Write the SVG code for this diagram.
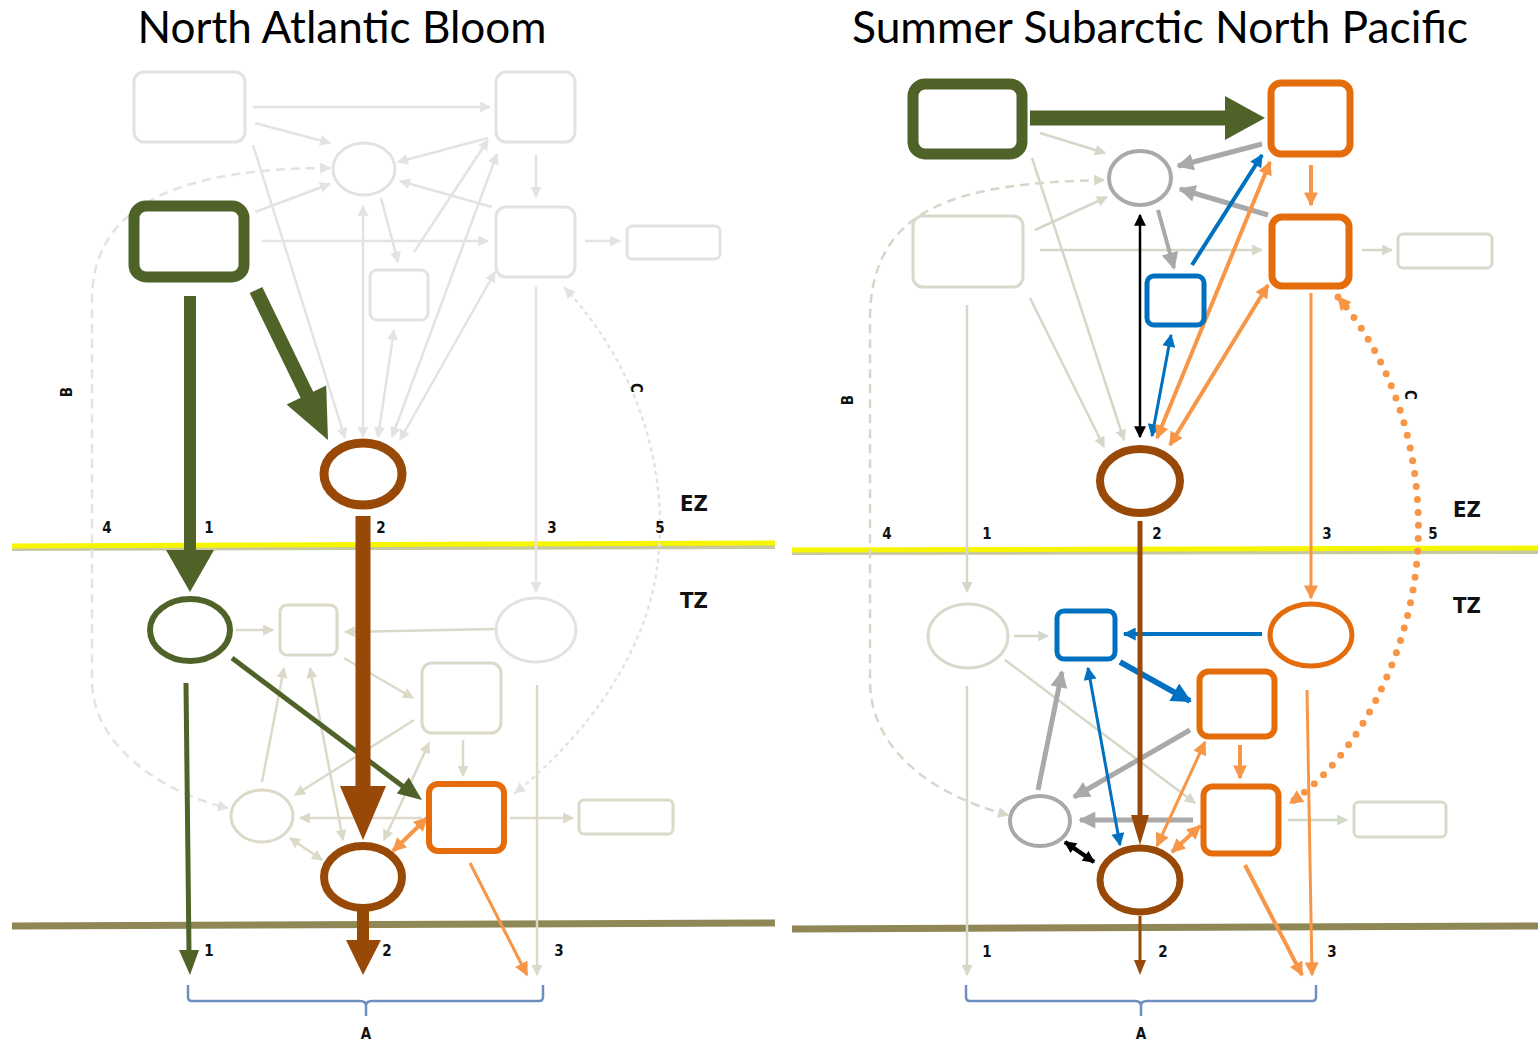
<svg xmlns="http://www.w3.org/2000/svg" width="1538" height="1040" viewBox="0 0 1538 1040">
<style>
.title{font-family:Lato,"Open Sans","Liberation Sans",sans-serif;font-size:44px;fill:#000}
.lbl{font-family:"DejaVu Sans Condensed","Liberation Sans",sans-serif;font-weight:bold;font-size:15px;fill:#111}
.zone{font-family:"DejaVu Sans Condensed","Liberation Sans",sans-serif;font-weight:bold;font-size:22px;fill:#111}
.n{fill:#fff}
.fg{fill:#fff;stroke:#e2e2e2;stroke-width:3}
.fb{fill:#fff;stroke:#dcd9c9;stroke-width:3}
.fr{fill:#fff;stroke:#d5dacb;stroke-width:3}
.lg{fill:none;stroke:#e3e3e3;stroke-width:2.5}
.lb{fill:none;stroke:#dcd9c9;stroke-width:2.5}
.lr{fill:none;stroke:#d3d9c8;stroke-width:2.5}
.gry{fill:none;stroke:#a9a9a9}
.blu{fill:none;stroke:#0070c0}
.orl{fill:none;stroke:#f79646}
.blk{fill:none;stroke:#000}
.green{stroke:#4f6228;fill:none}
.brown{stroke:#984807;fill:none}
</style>
<defs>
<marker id="mFg" viewBox="0 0 10 10" refX="9" refY="5" markerWidth="12" markerHeight="11" markerUnits="userSpaceOnUse" orient="auto-start-reverse"><path d="M0,0 L10,5 L0,10 z" fill="#e3e3e3"/></marker>
<marker id="mFb" viewBox="0 0 10 10" refX="9" refY="5" markerWidth="12" markerHeight="11" markerUnits="userSpaceOnUse" orient="auto-start-reverse"><path d="M0,0 L10,5 L0,10 z" fill="#dcd9c9"/></marker>
<marker id="mFr" viewBox="0 0 10 10" refX="9" refY="5" markerWidth="12" markerHeight="11" markerUnits="userSpaceOnUse" orient="auto-start-reverse"><path d="M0,0 L10,5 L0,10 z" fill="#d3d9c8"/></marker>
<marker id="mGr" viewBox="0 0 10 10" refX="9" refY="5" markerWidth="18" markerHeight="17" markerUnits="userSpaceOnUse" orient="auto-start-reverse"><path d="M0,0 L10,5 L0,10 z" fill="#a9a9a9"/></marker>
<marker id="mBl" viewBox="0 0 10 10" refX="9" refY="5" markerWidth="15" markerHeight="13" markerUnits="userSpaceOnUse" orient="auto-start-reverse"><path d="M0,0 L10,5 L0,10 z" fill="#0070c0"/></marker>
<marker id="mBlL" viewBox="0 0 10 10" refX="9" refY="5" markerWidth="22" markerHeight="20" markerUnits="userSpaceOnUse" orient="auto-start-reverse"><path d="M0,0 L10,5 L0,10 z" fill="#0070c0"/></marker>
<marker id="mOr" viewBox="0 0 10 10" refX="9" refY="5" markerWidth="15" markerHeight="14" markerUnits="userSpaceOnUse" orient="auto-start-reverse"><path d="M0,0 L10,5 L0,10 z" fill="#f79646"/></marker>
<marker id="mBk" viewBox="0 0 10 10" refX="9" refY="5" markerWidth="13" markerHeight="12" markerUnits="userSpaceOnUse" orient="auto-start-reverse"><path d="M0,0 L10,5 L0,10 z" fill="#000"/></marker>
</defs>
<rect width="1538" height="1040" fill="#fff"/>

<text class="title" x="342" y="43" text-anchor="middle" textLength="409" lengthAdjust="spacingAndGlyphs">North Atlantic Bloom</text>
<text class="title" x="1160" y="43" text-anchor="middle" textLength="616" lengthAdjust="spacingAndGlyphs">Summer Subarctic North Pacific</text>

<g id="layers">
<line x1="12" y1="548" x2="775" y2="546" stroke="#c8c8a0" stroke-width="6"/>
<line x1="12" y1="546" x2="775" y2="543" stroke="#f6f600" stroke-width="5"/>
<line x1="792" y1="552" x2="1538" y2="551" stroke="#c8c8a0" stroke-width="6"/>
<line x1="792" y1="550" x2="1538" y2="548" stroke="#f6f600" stroke-width="5"/>
<line x1="12" y1="926" x2="775" y2="923" stroke="#8f8755" stroke-width="7"/>
<line x1="792" y1="929" x2="1538" y2="926" stroke="#8f8755" stroke-width="7"/>
</g>

<g id="connectors">
<path class="lg" d="M253,107 L490,107" marker-end="url(#mFg)"/>
<path class="lg" d="M255,123 L330,143" marker-end="url(#mFg)"/>
<path class="lg" d="M488,138 L398,162" marker-end="url(#mFg)"/>
<path class="lg" d="M253,145 L345,438" marker-end="url(#mFg)"/>
<path class="lg" d="M255,212 L330,184" marker-end="url(#mFg)"/>
<path class="lg" d="M262,241 L488,241" marker-end="url(#mFg)"/>
<path class="lg" d="M381,198 L398,262" marker-end="url(#mFg)"/>
<path class="lg" d="M414,252 L488,140" marker-end="url(#mFg)"/>
<path class="lg" d="M392,437 L497,154" marker-start="url(#mFg)" marker-end="url(#mFg)"/>
<path class="lg" d="M400,440 L495,272" marker-start="url(#mFg)" marker-end="url(#mFg)"/>
<path class="lg" d="M492,207 L400,181" marker-end="url(#mFg)"/>
<path class="lg" d="M536,155 L536,197" marker-end="url(#mFg)"/>
<path class="lg" d="M585,241 L620,241" marker-end="url(#mFg)"/>
<path class="lg" d="M363,206 L363,437" marker-start="url(#mFg)" marker-end="url(#mFg)"/>
<path class="lg" d="M394,330 L378,437" marker-start="url(#mFg)" marker-end="url(#mFg)"/>
<path class="lg" d="M536,287 L536,592" marker-end="url(#mFg)"/>
<path class="lb" d="M537,685 L537,975" marker-end="url(#mFb)"/>
<path class="lg" d="M330,168 C200,168 92,195 92,300 L92,680 C92,750 170,795 228,808" stroke-dasharray="9 6" marker-start="url(#mFg)" marker-end="url(#mFg)"/>
<path class="lg" d="M565,288 C640,370 668,470 658,560 C648,660 575,745 515,793" stroke-dasharray="2 6" stroke-linecap="round" marker-start="url(#mFg)" marker-end="url(#mFg)"/>
<path class="lb" d="M236,630 L273,630" marker-end="url(#mFb)"/>
<path class="lb" d="M496,629 L345,632" marker-end="url(#mFb)"/>
<path class="lb" d="M344,658 L413,698" marker-end="url(#mFb)"/>
<path class="lb" d="M414,720 L295,795" marker-end="url(#mFb)"/>
<path class="lb" d="M262,782 L284,668" marker-end="url(#mFb)"/>
<path class="lb" d="M310,668 L343,840" marker-start="url(#mFb)" marker-end="url(#mFb)"/>
<path class="lb" d="M429,743 L384,840" marker-start="url(#mFb)" marker-end="url(#mFb)"/>
<path class="lb" d="M463,740 L463,776" marker-end="url(#mFb)"/>
<path class="lb" d="M422,818 L300,818" marker-end="url(#mFb)"/>
<path class="lb" d="M290,838 L322,860" marker-start="url(#mFb)" marker-end="url(#mFb)"/>
<path class="lb" d="M510,818 L573,818" marker-end="url(#mFb)"/>

<path class="green" d="M190,296 L190,556" stroke-width="12"/>
<polygon points="166,550 214,550 190,592" fill="#4f6228"/>
<path class="green" d="M256,290 L308,397" stroke-width="14"/>
<polygon points="286.6,404.4 326.2,385.4 328,440" fill="#4f6228"/>
<path class="green" d="M186,683 L189,952" stroke-width="5"/>
<polygon points="179,950 199,950 190,975" fill="#4f6228"/>
<path class="green" d="M232,658 L405,788" stroke-width="5"/>
<polygon points="396.8,793.6 408.8,777.6 422,800" fill="#4f6228"/>
<path class="brown" d="M363,516 L363,790" stroke-width="15"/>
<polygon points="340,786 386,786 363,840" fill="#984807"/>
<path class="brown" d="M363,910 L363,942" stroke-width="12"/>
<polygon points="346,940 381,940 363,975" fill="#984807"/>
<path class="orl" d="M427,818 L393,851" stroke-width="4" marker-start="url(#mOr)" marker-end="url(#mOr)"/>
<path class="orl" d="M470,863 L527,975" stroke-width="3" marker-end="url(#mOr)"/>

<path class="lr" d="M1040,133 L1105,153" marker-end="url(#mFr)"/>
<path class="lr" d="M1032,158 L1124,440" marker-end="url(#mFr)"/>
<path class="lr" d="M1030,298 L1104,447" marker-end="url(#mFr)"/>
<path class="lr" d="M1035,230 L1107,197" marker-end="url(#mFr)"/>
<path class="lr" d="M1040,250 L1262,250" marker-end="url(#mFr)"/>
<path class="lr" d="M1362,250 L1392,250" marker-end="url(#mFr)"/>
<path class="lr" d="M967,305 L967,592" marker-end="url(#mFr)"/>
<path class="lr" d="M1014,636 L1048,636" marker-end="url(#mFr)"/>
<path class="lr" d="M1005,660 L1195,803" marker-end="url(#mFr)"/>
<path class="lr" d="M967,686 L967,975" marker-end="url(#mFr)"/>
<path class="lr" d="M1288,820 L1347,820" marker-end="url(#mFr)"/>
<path class="lr" d="M1104,180 C960,183 870,205 870,320 L870,680 C870,760 950,800 1008,815" stroke-dasharray="9 6" marker-start="url(#mFr)" marker-end="url(#mFr)"/>

<path class="gry" d="M1262,144 L1178,166" stroke-width="5" marker-end="url(#mGr)"/>
<path class="gry" d="M1268,215 L1180,189" stroke-width="5" marker-end="url(#mGr)"/>
<path class="gry" d="M1158,210 L1174,268" stroke-width="4" marker-end="url(#mGr)"/>
<path class="gry" d="M1190,730 L1074,797" stroke-width="5" marker-end="url(#mGr)"/>
<path class="gry" d="M1038,790 L1062,672" stroke-width="5" marker-end="url(#mGr)"/>
<path class="gry" d="M1193,820 L1080,820" stroke-width="5" marker-end="url(#mGr)"/>

<path class="blu" d="M1192,265 L1262,155" stroke-width="4" marker-end="url(#mBl)"/>
<path class="blu" d="M1152,436 L1171,335" stroke-width="3" marker-start="url(#mBl)" marker-end="url(#mBl)"/>
<path class="blu" d="M1262,634 L1124,634" stroke-width="4" marker-end="url(#mBl)"/>
<path class="blu" d="M1120,662 L1190,701" stroke-width="6" marker-end="url(#mBlL)"/>
<path class="blu" d="M1088,668 L1120,845" stroke-width="3" marker-start="url(#mBl)" marker-end="url(#mBl)"/>

<path class="blk" d="M1140,215 L1140,437" stroke-width="2.5" marker-start="url(#mBk)" marker-end="url(#mBk)"/>
<path class="blk" d="M1065,842 L1094,862" stroke-width="4.5" marker-start="url(#mBk)" marker-end="url(#mBk)"/>

<path class="orl" d="M1157,438 L1270,162" stroke-width="4" marker-start="url(#mOr)" marker-end="url(#mOr)"/>
<path class="orl" d="M1170,445 L1268,285" stroke-width="4" marker-start="url(#mOr)" marker-end="url(#mOr)"/>
<path class="orl" d="M1311,165 L1311,205" stroke-width="4" marker-end="url(#mOr)"/>
<path class="orl" d="M1311,293 L1311,598" stroke-width="3" marker-end="url(#mOr)"/>
<path class="orl" d="M1157,846 L1205,742" stroke-width="3" marker-start="url(#mOr)" marker-end="url(#mOr)"/>
<path class="orl" d="M1172,852 L1200,826" stroke-width="4" marker-start="url(#mOr)" marker-end="url(#mOr)"/>
<path class="orl" d="M1240,745 L1240,778" stroke-width="4" marker-end="url(#mOr)"/>
<path class="orl" d="M1307,690 L1312,975" stroke-width="3" marker-end="url(#mOr)"/>
<path class="orl" d="M1245,865 L1302,975" stroke-width="4" marker-end="url(#mOr)"/>
<path class="orl" d="M1338,297 C1400,370 1425,470 1417,560 C1408,660 1355,760 1290,803" stroke-width="7" stroke-dasharray="0 13" stroke-linecap="round" marker-start="url(#mOr)" marker-end="url(#mOr)"/>

<path class="green" d="M1030,118 L1230,118" stroke-width="15"/>
<polygon points="1225,96 1225,140 1265,118" fill="#4f6228"/>
<path class="brown" d="M1140,521 L1140,818" stroke-width="5"/>
<polygon points="1131,815 1149,815 1140,845" fill="#984807"/>
<path class="brown" d="M1140,916 L1140,962" stroke-width="3"/>
<polygon points="1134,960 1146,960 1140,975" fill="#984807"/>

<path d="M188,985 L188,997 Q188,1001 192,1001 L360,1001 Q366,1001 366,1006 L366,1016 M366,1006 Q366,1001 372,1001 L539,1001 Q543,1001 543,997 L543,985" fill="none" stroke="#6d8fbf" stroke-width="2.5"/>
<path d="M966,985 L966,997 Q966,1001 970,1001 L1135,1001 Q1141,1001 1141,1006 L1141,1016 M1141,1006 Q1141,1001 1147,1001 L1312,1001 Q1316,1001 1316,997 L1316,985" fill="none" stroke="#6d8fbf" stroke-width="2.5"/>
</g>

<g id="nab-tl-box"><rect class="fg" x="134" y="72" width="111" height="70" rx="10"/></g>
<g id="nab-tr-box"><rect class="fg" x="496" y="72" width="79" height="70" rx="10"/></g>
<g id="nab-circle"><ellipse class="fg" cx="364" cy="169" rx="31" ry="26"/></g>
<g id="nab-green-box"><rect class="n" x="134" y="206" width="110" height="71" rx="12" stroke="#4f6228" stroke-width="11"/></g>
<g id="nab-mid-box"><rect class="fg" x="496" y="207" width="79" height="70" rx="10"/></g>
<g id="nab-far-rect"><rect class="fg" x="627" y="226" width="93" height="33" rx="5"/></g>
<g id="nab-small-box"><rect class="fg" x="370" y="270" width="58" height="50" rx="7"/></g>
<g id="nab-brown-top"><ellipse class="n" cx="363" cy="474" rx="39" ry="31" stroke="#984807" stroke-width="9"/></g>
<g id="nab-green-ell"><ellipse class="n" cx="190" cy="630" rx="40" ry="31" stroke="#4f6228" stroke-width="6"/></g>
<g id="nab-tz-sbox"><rect class="fb" x="280" y="605" width="57" height="50" rx="7"/></g>
<g id="nab-tz-ell-r"><ellipse class="fg" cx="536" cy="630" rx="40" ry="32"/></g>
<g id="nab-tz-mbox"><rect class="fb" x="422" y="663" width="79" height="70" rx="10"/></g>
<g id="nab-tz-ell-s"><ellipse class="fb" cx="262" cy="816" rx="31" ry="26"/></g>
<g id="nab-orange-box"><rect class="n" x="429" y="784" width="75" height="67" rx="9" stroke="#e46c0a" stroke-width="6"/></g>
<g id="nab-far-rect2"><rect class="fb" x="579" y="800" width="94" height="34" rx="5"/></g>
<g id="nab-brown-bot"><ellipse class="n" cx="363" cy="877" rx="39" ry="31" stroke="#984807" stroke-width="8"/></g>

<g id="snp-green-box"><rect class="n" x="913" y="84" width="109" height="70" rx="12" stroke="#4f6228" stroke-width="11"/></g>
<g id="snp-orange-tr"><rect class="n" x="1271" y="83" width="79" height="71" rx="10" stroke="#e46c0a" stroke-width="7"/></g>
<g id="snp-circle"><ellipse class="n" cx="1140" cy="178" rx="31" ry="27" stroke="#a9a9a9" stroke-width="4"/></g>
<g id="snp-faded-box"><rect class="fr" x="913" y="216" width="110" height="71" rx="10"/></g>
<g id="snp-orange-mid"><rect class="n" x="1272" y="217" width="77" height="69" rx="10" stroke="#e46c0a" stroke-width="7"/></g>
<g id="snp-far-rect"><rect class="fr" x="1398" y="234" width="94" height="34" rx="5"/></g>
<g id="snp-blue-box"><rect class="n" x="1147" y="276" width="57" height="49" rx="7" stroke="#0070c0" stroke-width="5"/></g>
<g id="snp-brown-top"><ellipse class="n" cx="1140" cy="481" rx="40" ry="32" stroke="#984807" stroke-width="8"/></g>
<g id="snp-tz-ell-l"><ellipse class="fr" cx="968" cy="636" rx="40" ry="32"/></g>
<g id="snp-blue-tz"><rect class="n" x="1057" y="611" width="58" height="48" rx="7" stroke="#0070c0" stroke-width="5"/></g>
<g id="snp-orange-ell"><ellipse class="n" cx="1311" cy="635" rx="41" ry="31" stroke="#e46c0a" stroke-width="5"/></g>
<g id="snp-orange-tzmid"><rect class="n" x="1199.5" y="671.5" width="75" height="65" rx="9" stroke="#e46c0a" stroke-width="6"/></g>
<g id="snp-gray-ell"><ellipse class="n" cx="1040" cy="821" rx="30" ry="25" stroke="#a9a9a9" stroke-width="4"/></g>
<g id="snp-orange-low"><rect class="n" x="1203.5" y="786.5" width="75" height="67" rx="9" stroke="#e46c0a" stroke-width="6"/></g>
<g id="snp-far-rect2"><rect class="fr" x="1354" y="802" width="92" height="35" rx="5"/></g>
<g id="snp-brown-bot"><ellipse class="n" cx="1140" cy="880" rx="40" ry="32" stroke="#984807" stroke-width="7"/></g>

<g id="labels">
<text class="lbl" x="107" y="533" text-anchor="middle">4</text>
<text class="lbl" x="209" y="533" text-anchor="middle">1</text>
<text class="lbl" x="381" y="533" text-anchor="middle">2</text>
<text class="lbl" x="552" y="533" text-anchor="middle">3</text>
<text class="lbl" x="660" y="533" text-anchor="middle">5</text>
<text class="zone" x="694" y="511" text-anchor="middle">EZ</text>
<text class="zone" x="694" y="608" text-anchor="middle">TZ</text>
<text class="lbl" x="209" y="956" text-anchor="middle">1</text>
<text class="lbl" x="387" y="956" text-anchor="middle">2</text>
<text class="lbl" x="559" y="956" text-anchor="middle">3</text>
<text class="lbl" x="366" y="1039" text-anchor="middle">A</text>
<text class="lbl" x="0" y="0" text-anchor="middle" font-size="13" transform="translate(72,392) rotate(-90)">B</text>
<text class="lbl" x="0" y="0" text-anchor="middle" font-size="14" transform="translate(631,388) rotate(90)">C</text>

<text class="lbl" x="887" y="539" text-anchor="middle">4</text>
<text class="lbl" x="987" y="539" text-anchor="middle">1</text>
<text class="lbl" x="1157" y="539" text-anchor="middle">2</text>
<text class="lbl" x="1327" y="539" text-anchor="middle">3</text>
<text class="lbl" x="1433" y="539" text-anchor="middle">5</text>
<text class="zone" x="1467" y="517" text-anchor="middle">EZ</text>
<text class="zone" x="1467" y="613" text-anchor="middle">TZ</text>
<text class="lbl" x="987" y="957" text-anchor="middle">1</text>
<text class="lbl" x="1163" y="957" text-anchor="middle">2</text>
<text class="lbl" x="1332" y="957" text-anchor="middle">3</text>
<text class="lbl" x="1141" y="1039" text-anchor="middle">A</text>
<text class="lbl" x="0" y="0" text-anchor="middle" font-size="13" transform="translate(853,400) rotate(-90)">B</text>
<text class="lbl" x="0" y="0" text-anchor="middle" font-size="14" transform="translate(1405,395) rotate(90)">C</text>
</g>
</svg>
